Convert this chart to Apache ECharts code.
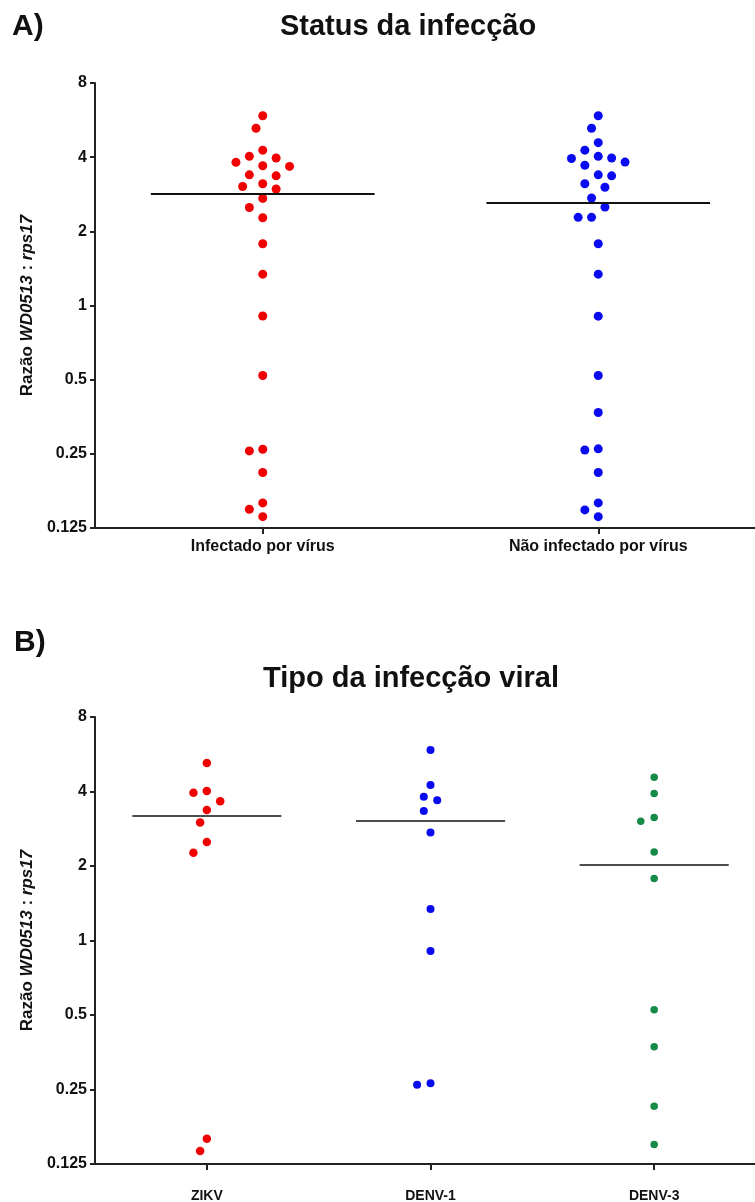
<!DOCTYPE html>
<html>
<head>
<meta charset="utf-8">
<script src="https://cdn.jsdelivr.net/npm/echarts@6/dist/echarts.min.js"></script>
<style>
  html, body { margin: 0; padding: 0; background: #fff; }
  #main { width: 755px; height: 1202px; }
</style>
</head>
<body>
<div id="main"></div>
<script>
// painel A - status da infecção
const statusCats = ['Infectado por vírus', 'Não infectado por vírus']
const infectado = [5.89, 5.24, 4.27, 4.03, 3.97, 3.81, 3.67, 3.69, 3.36, 3.39, 3.04, 3.12, 2.97,
  2.72, 2.50, 2.27, 1.78, 1.34, 0.907, 0.52, 0.257, 0.261, 0.210, 0.158, 0.149, 0.139]
const naoInfectado = [5.89, 5.24, 4.58, 4.27, 3.97, 3.82, 3.95, 4.03, 3.71, 3.39, 3.36, 3.12, 3.02,
  2.73, 2.51, 2.28, 2.28, 1.78, 1.34, 0.905, 0.52, 0.368, 0.259, 0.262, 0.210, 0.158, 0.148, 0.139]

// painel B - tipo da infecção viral
const virusCats = ['ZIKV', 'DENV-1', 'DENV-3']
const zikv = [5.22, 3.95, 4.02, 3.65, 3.37, 3.00, 2.50, 2.26, 0.158, 0.141]
const denv1 = [5.88, 4.25, 3.69, 3.81, 3.34, 2.73, 1.34, 0.907, 0.261, 0.265]
const denv3 = [4.57, 3.93, 3.03, 3.14, 2.28, 1.78, 0.525, 0.372, 0.214, 0.150]

const yMin = 0.125
const yMax = 8

const FONT = '"Liberation Sans", Arial, sans-serif'
const RED = '#f00000'
const BLUE = '#0a0af0'
const GREEN = '#168a47'

// grid geometry (px)
const gridA = { left: 95, right: -11, top: 83, height: 445 }
const gridB = { left: 95, right: -11, top: 717, height: 447 }
const gridWidth = 755 - 95 + 11

function median(arr) {
  const s = arr.slice().sort((a, b) => a - b)
  const m = Math.floor(s.length / 2)
  return s.length % 2 ? s[m] : (s[m - 1] + s[m]) / 2
}

// simple beeswarm: place dots from top to bottom, nearest free slot to the centre
function swarm(values, pxPerDoubling, pxPerUnit, minDist, step) {
  const order = values.map((v, i) => i).sort((a, b) => values[b] - values[a])
  const placed = []
  const off = []
  order.forEach(i => {
    const y = -Math.log2(values[i]) * pxPerDoubling
    for (let n = 0; n < 50; n++) {
      const k = n === 0 ? 0 : (n % 2 ? -(n + 1) / 2 : n / 2)
      const x = k * step
      const ok = placed.every(p => (p.x - x) ** 2 + (p.y - y) ** 2 >= minDist * minDist - 0.5)
      if (ok) {
        placed.push({ x, y })
        off[i] = x / pxPerUnit
        break
      }
    }
  })
  return off
}

function dots(values, catIndex, grid, nCats, size, color, xAxisIndex, yAxisIndex) {
  const off = swarm(values, grid.height / 6, gridWidth / nCats, 13, 6.7)
  return {
    type: 'scatter',
    xAxisIndex: xAxisIndex,
    yAxisIndex: yAxisIndex,
    symbol: 'circle',
    symbolSize: size,
    itemStyle: { color: color, opacity: 1 },
    data: values.map((v, i) => [catIndex + off[i], v]),
    z: 3,
  }
}

function medianLine(values, catIndex, width, xAxisIndex, yAxisIndex) {
  const m = median(values)
  return {
    type: 'lines',
    coordinateSystem: 'cartesian2d',
    xAxisIndex: xAxisIndex,
    yAxisIndex: yAxisIndex,
    lineStyle: { color: '#111', width: width, opacity: 1 },
    data: [{ coords: [[catIndex - 1 / 3, m], [catIndex + 1 / 3, m]] }],
    z: 4,
  }
}

function yAxisFor(gridIndex) {
  return {
    type: 'log',
    logBase: 2,
    gridIndex: gridIndex,
    min: yMin,
    max: yMax,
    interval: 1,
    name: '{b|Razão }{i|WD0513}{b| : }{i|rps17}',
    nameLocation: 'middle',
    nameGap: 58,
    nameRotate: 90,
    nameTextStyle: {
      rich: {
        b: { fontFamily: FONT, fontSize: 17, fontWeight: 'bold', color: '#111' },
        i: { fontFamily: FONT, fontSize: 17, fontWeight: 'bold', fontStyle: 'italic', color: '#111' },
      },
    },
    axisLine: { show: true, onZero: false, lineStyle: { color: '#222', width: 2 } },
    axisTick: { show: true, length: 5, lineStyle: { color: '#222', width: 2 } },
    axisLabel: {
      fontFamily: FONT, fontSize: 16, fontWeight: 'bold', color: '#111', margin: 8,
      formatter: v => String(+(+v).toPrecision(6)),
    },
    splitLine: { show: false },
    minorTick: { show: false },
  }
}

function catAxis(gridIndex, cats, fontSize, margin) {
  return {
    type: 'category',
    gridIndex: gridIndex,
    data: cats,
    boundaryGap: true,
    axisLine: { show: true, onZero: false, lineStyle: { color: '#222', width: 2 } },
    axisTick: { show: true, alignWithLabel: true, length: 6, lineStyle: { color: '#222', width: 2 } },
    axisLabel: { interval: 0, fontFamily: FONT, fontSize: fontSize, fontWeight: 'bold', color: '#111', margin: margin },
    splitLine: { show: false },
  }
}

function valAxis(gridIndex, n) {
  return { type: 'value', gridIndex: gridIndex, min: -0.5, max: n - 0.5, show: false, splitLine: { show: false } }
}

const chart = echarts.init(document.getElementById('main'), null, { renderer: 'canvas' })
chart.setOption({
  animation: false,
  backgroundColor: '#fff',
  grid: [
    Object.assign({ containLabel: false, outerBoundsMode: 'none' }, gridA),
    Object.assign({ containLabel: false, outerBoundsMode: 'none' }, gridB),
  ],
  xAxis: [
    catAxis(0, statusCats, 16, 11),
    valAxis(0, 2),
    catAxis(1, virusCats, 14, 25),
    valAxis(1, 3),
  ],
  yAxis: [yAxisFor(0), yAxisFor(1)],
  graphic: [
    { type: 'text', left: 12, top: 12, style: { text: 'A)', font: 'bold 30px ' + FONT, fill: '#111' } },
    { type: 'text', x: 408, y: 27, style: { text: 'Status da infecção', font: 'bold 29px ' + FONT, fill: '#111', align: 'center', verticalAlign: 'middle' } },
    { type: 'text', left: 14, top: 628, style: { text: 'B)', font: 'bold 30px ' + FONT, fill: '#111' } },
    { type: 'text', x: 411, y: 679, style: { text: 'Tipo da infecção viral', font: 'bold 29px ' + FONT, fill: '#111', align: 'center', verticalAlign: 'middle' } },
  ],
  series: [
    dots(infectado, 0, gridA, 2, 9, RED, 1, 0),
    dots(naoInfectado, 1, gridA, 2, 9, BLUE, 1, 0),
    medianLine(infectado, 0, 2.2, 1, 0),
    medianLine(naoInfectado, 1, 2.2, 1, 0),
    dots(zikv, 0, gridB, 3, 8.5, RED, 3, 1),
    dots(denv1, 1, gridB, 3, 8, BLUE, 3, 1),
    dots(denv3, 2, gridB, 3, 7.5, GREEN, 3, 1),
    medianLine(zikv, 0, 1.7, 3, 1),
    medianLine(denv1, 1, 1.7, 3, 1),
    medianLine(denv3, 2, 1.7, 3, 1),
  ],
})
</script>
</body>
</html>
